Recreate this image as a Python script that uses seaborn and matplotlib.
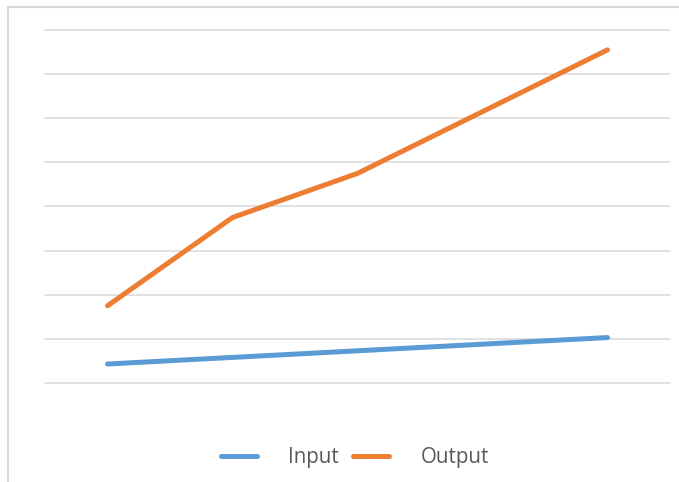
import numpy as np
import pandas as pd
import matplotlib
matplotlib.use("Agg")
import matplotlib.pyplot as plt
from matplotlib.patches import Rectangle
import seaborn as sns

# Données (unités arbitraires, pas de 20 entre les grilles)
steps = [1, 2, 3, 4, 5]
input_vals = [8.6, 11.6, 14.6, 17.6, 20.6]
output_vals = [35, 75, 95, 123, 151]
series_names = ["Input", "Output"]
colors = ["#5b9bd5", "#ed7d31"]

df = pd.DataFrame({
    "step": steps * 2,
    "value": input_vals + output_vals,
    "serie": [series_names[0]] * len(steps) + [series_names[1]] * len(steps),
})

sns.set_style("white")
plt.rcParams["font.family"] = ["Open Sans", "DejaVu Sans"]

fig = plt.figure(figsize=(6.79, 4.82), dpi=100)
ax = fig.add_axes([45 / 679, 1 - 383 / 482, 625 / 679, 353 / 482])

sns.lineplot(data=df, x="step", y="value", hue="serie", palette=colors,
             linewidth=3.6, ax=ax, legend=False)
for line in ax.get_lines():
    line.set_solid_capstyle("round")

ax.set_xlim(0.5, 5.5)
ax.set_ylim(0, 160)
ax.set_yticks(np.arange(0, 161, 20))
ax.grid(axis="y", color="#d9d9d9", linewidth=1.1)
ax.grid(axis="x", visible=False)
for gl in ax.get_ygridlines():
    gl.set_clip_on(False)
ax.set_axisbelow(True)
ax.tick_params(left=False, bottom=False, labelleft=False, labelbottom=False)
ax.set_xlabel("")
ax.set_ylabel("")
for sp in ax.spines.values():
    sp.set_visible(False)

# Légende en bas
handles = [plt.Line2D([], [], color=c, linewidth=3.6, solid_capstyle="round") for c in colors]
leg = fig.legend(handles, series_names, loc="center", bbox_to_anchor=(355 / 679, 1 - 458 / 482),
                 ncol=2, frameon=False, fontsize=14.8, handlelength=1.75,
                 handletextpad=1.55, columnspacing=0.68)
for t in leg.get_texts():
    t.set_color("#595959")

# Bordure du cadre
fig.add_artist(Rectangle((7.5 / 679, -0.1), 1.2, 1.1 - 6.5 / 482, transform=fig.transFigure,
                         fill=False, edgecolor="#d9d9d9", linewidth=1.5))

fig.savefig("out.png", dpi=100)
